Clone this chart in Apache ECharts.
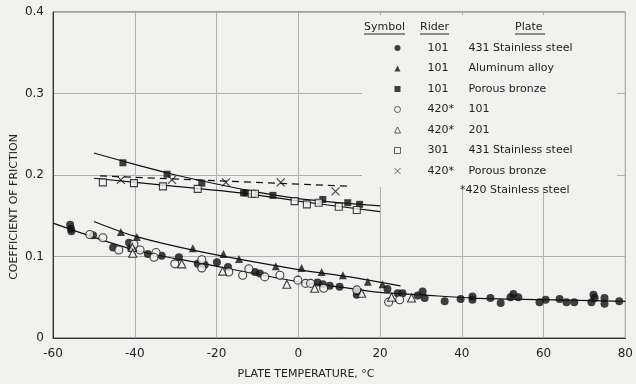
<!DOCTYPE html>
<html>
<head>
<meta charset="utf-8">
<script src="https://cdn.jsdelivr.net/npm/echarts@6/dist/echarts.min.js"></script>
<style>html,body{margin:0;padding:0;background:#f1f1f0;}#c{width:636px;height:384px;}</style>
</head>
<body>
<div id="c"></div>
<script>
// ---- data (temperature °C, coefficient of friction) ----
const riders = ['101', '101', '101', '420*', '420*', '301', '420*'];
const plates = ['431 Stainless steel', 'Aluminum alloy', 'Porous bronze', '101', '201', '431 Stainless steel', 'Porous bronze'];

const filledCircle = [[-55.8,0.139],[-55.6,0.134],[-55.5,0.131],[-50.2,0.126],[-45.3,0.111],[-41.4,0.117],[-40.9,0.110],[-36.8,0.103],[-33.4,0.101],[-29.2,0.099],[-24.6,0.091],[-22.9,0.090],[-19.9,0.093],[-17.2,0.087],[-10.6,0.081],[-9.4,0.079],[4.7,0.068],[6.0,0.066],[7.7,0.064],[10.1,0.063],[14.3,0.053],[14.5,0.057],[21.8,0.060],[24.3,0.055],[25.5,0.055],[29.2,0.052],[30.4,0.057],[30.9,0.049],[35.8,0.045],[39.7,0.048],[42.6,0.051],[42.6,0.047],[47.0,0.049],[49.5,0.043],[51.9,0.050],[52.6,0.054],[53.8,0.050],[59.0,0.044],[60.5,0.047],[63.9,0.048],[65.6,0.044],[67.5,0.044],[71.7,0.044],[72.2,0.053],[72.5,0.049],[74.9,0.049],[74.9,0.042],[78.5,0.045]];
const filledTriangle = [[-43.4,0.130],[-39.5,0.124],[-25.8,0.110],[-18.3,0.103],[-14.5,0.097],[-5.5,0.088],[0.8,0.086],[5.7,0.081],[10.9,0.077],[17.0,0.069],[20.6,0.066]];
const filledSquare = [[-42.9,0.215],[-32.1,0.201],[-23.6,0.190],[-13.4,0.178],[-12.8,0.178],[-6.2,0.175],[6.0,0.170],[12.1,0.166],[15.0,0.164]];
const openCircle = [[-51.0,0.127],[-47.8,0.123],[-43.9,0.108],[-40.2,0.115],[-38.7,0.108],[-34.8,0.105],[-35.3,0.099],[-30.2,0.091],[-23.6,0.096],[-23.6,0.086],[-17.0,0.081],[-13.6,0.077],[-12.1,0.085],[-8.2,0.075],[-4.5,0.077],[-0.1,0.071],[1.8,0.067],[3.0,0.067],[6.2,0.061],[14.3,0.059],[22.1,0.044],[24.8,0.047]];
const openTriangle = [[-40.6,0.111],[-40.5,0.104],[-28.5,0.091],[-18.5,0.082],[-2.8,0.066],[4.0,0.061],[15.5,0.055],[22.8,0.050],[27.7,0.049]];
const openSquare = [[-47.8,0.191],[-40.2,0.190],[-33.1,0.186],[-24.6,0.183],[-11.4,0.177],[-10.6,0.177],[-0.9,0.168],[2.1,0.164],[5.0,0.166],[9.9,0.161],[14.3,0.157]];
const crossMark = [[-43.4,0.194],[-30.9,0.194],[-17.7,0.191],[-4.3,0.191],[9.1,0.180]];

// fitted curves as drawn
const fitSquareFilled = [[-50,0.227],[-40,0.213],[-30,0.200],[-20,0.189],[-10,0.179],[0,0.171],[10,0.166],[20,0.162]];
const fitSquareOpen = [[-50,0.196],[-30,0.186],[-14,0.178],[0,0.168],[20,0.155]];
const fitCross = [[-48.5,0.199],[13,0.186]];
const fitTriangle = [[-50,0.143],[-40,0.125],[-24,0.106],[0,0.084],[12.6,0.075],[25,0.064]];
const fitCircle = [[-60,0.141],[-40,0.108],[-23,0.091],[0,0.069],[12.6,0.061],[20,0.056],[30,0.053],[42.6,0.049],[60,0.047],[80,0.045]];

const xTicks = [-60, 80, 20];   // min, max, interval
const yTicks = [0, 0.4, 0.1];

const BG = '#f1f1f0';
const INK = '#111';
const FONT = 'DejaVu Sans';

const markerSets = [filledCircle, filledTriangle, filledSquare, openCircle, openTriangle, openSquare, crossMark];
const symbols = ['circle', 'triangle', 'rect', 'circle', 'triangle', 'rect', 'path://M0,0L10,10M10,0L0,10'];
const sizes = [8, 8, 7, 8, 8, 7, 8];
const filled = [true, true, true, false, false, false, null];
const names = riders.map((r, i) => r + ' | ' + plates[i]);

const series = [];
markerSets.forEach((d, i) => {
  let itemStyle;
  if (filled[i] === true) itemStyle = { color: INK };
  else if (filled[i] === false) itemStyle = { color: BG, borderColor: INK, borderWidth: 1.1 };
  else itemStyle = { color: 'none', borderColor: INK, borderWidth: 1.1 };
  series.push({ name: names[i], type: 'scatter', data: d, symbol: symbols[i], symbolSize: sizes[i], itemStyle, z: 4, silent: true });
});
[[fitSquareFilled, 'solid'], [fitSquareOpen, 'solid'], [fitCross, [7, 5]], [fitTriangle, 'solid'], [fitCircle, 'solid']].forEach(([d, t]) => {
  series.push({ type: 'line', data: d, smooth: 0.3, showSymbol: false, lineStyle: { color: INK, width: 1.2, type: t }, z: 3, silent: true });
});

const legendText = {};
names.forEach((n, i) => legendText[n] = '{g|}{r|' + riders[i] + '}{p|' + plates[i] + '}');
const legendData = names.map((n, i) => filled[i] === true ? { name: n } :
  { name: n, itemStyle: { borderWidth: 0.8 } });

const chart = echarts.init(document.getElementById('c'), null, { renderer: 'canvas' });
chart.setOption({
  backgroundColor: BG,
  animation: false,
  grid: { left: 53, right: 10, top: 12, bottom: 46, show: true, borderColor: '#555', borderWidth: 1 },
  xAxis: {
    type: 'value', min: xTicks[0], max: xTicks[1], interval: xTicks[2],
    axisLine: { onZero: false, lineStyle: { color: '#333', width: 1 } },
    axisTick: { show: false },
    axisLabel: { color: '#222', fontFamily: FONT, fontSize: 12, margin: 10 },
    splitLine: { lineStyle: { color: '#b0b0b0', width: 1 } }
  },
  yAxis: {
    type: 'value', min: yTicks[0], max: yTicks[1], interval: yTicks[2],
    axisLine: { show: true, onZero: false, lineStyle: { color: '#333', width: 1 } },
    axisTick: { show: false },
    axisLabel: { color: '#222', fontFamily: FONT, fontSize: 12, margin: 9 },
    splitLine: { lineStyle: { color: '#b0b0b0', width: 1 } }
  },
  legend: {
    orient: 'vertical', left: 387, top: 36, z: 6,
    itemWidth: 6, itemHeight: 6, itemGap: 6.5,
    data: legendData,
    formatter: n => legendText[n],
    textStyle: {
      color: '#222', fontFamily: FONT, fontSize: 11, lineHeight: 14,
      rich: {
        g: { width: 22, lineHeight: 14 },
        r: { width: 41, fontFamily: FONT, fontSize: 11, lineHeight: 14, color: '#222' },
        p: { fontFamily: FONT, fontSize: 11, lineHeight: 14, color: '#222' }
      }
    },
    selectedMode: false
  },
  graphic: [
    { type: 'rect', z: 1, shape: { x: 362, y: 15, width: 255, height: 172 }, style: { fill: BG } },
    { type: 'text', z: 6, x: 364, y: 27, style: { text: 'Symbol', font: '11px ' + FONT, fill: '#222', verticalAlign: 'middle' } },
    { type: 'line', z: 6, shape: { x1: 364, y1: 34, x2: 405, y2: 34 }, style: { stroke: '#222', lineWidth: 1 } },
    { type: 'text', z: 6, x: 420, y: 27, style: { text: 'Rider', font: '11px ' + FONT, fill: '#222', verticalAlign: 'middle' } },
    { type: 'line', z: 6, shape: { x1: 420, y1: 34, x2: 449, y2: 34 }, style: { stroke: '#222', lineWidth: 1 } },
    { type: 'text', z: 6, x: 515, y: 27, style: { text: 'Plate', font: '11px ' + FONT, fill: '#222', verticalAlign: 'middle' } },
    { type: 'line', z: 6, shape: { x1: 515, y1: 34, x2: 545, y2: 34 }, style: { stroke: '#222', lineWidth: 1 } },
    { type: 'text', z: 6, x: 460, y: 190, style: { text: '*420 Stainless steel', font: '11px ' + FONT, fill: '#222', verticalAlign: 'middle' } },
    { type: 'text', z: 6, x: 14, y: 207, rotation: Math.PI / 2, style: { text: 'COEFFICIENT OF FRICTION', font: '11px ' + FONT, fill: '#222', align: 'center', verticalAlign: 'middle' } },
    { type: 'text', z: 6, x: 306, y: 374, style: { text: 'PLATE TEMPERATURE, °C', font: '11px ' + FONT, fill: '#222', align: 'center', verticalAlign: 'middle' } }
  ],
  series
});
</script>
</body>
</html>
